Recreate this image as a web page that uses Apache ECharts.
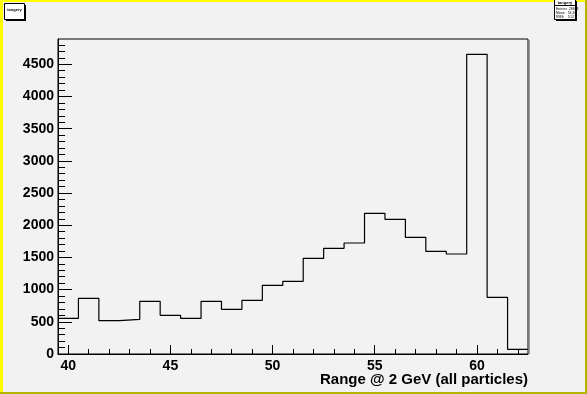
<!DOCTYPE html>
<html>
<head>
<meta charset="utf-8">
<script src="https://cdn.jsdelivr.net/npm/echarts@6.0.0/dist/echarts.min.js"></script>
<style>
html,body{margin:0;padding:0;background:#f2f2f2;}
#chart{width:587px;height:394px;}
</style>
</head>
<body>
<div id="chart"></div>
<script>
// ---- data ----
var binCenters = [40,41,42,43,44,45,46,47,48,49,50,51,52,53,54,55,56,57,58,59,60,61,62];
var counts     = [554,865,517,539,818,601,554,818,694,834,1067,1129,1486,1642,1724,2185,2092,1813,1595,1553,4655,880,73];
var binWidth = 1;
var xTickLabels = [40,45,50,55,60];
var yTickLabels = [0,500,1000,1500,2000,2500,3000,3500,4000,4500];
var xTitle = 'Range @ 2 GeV (all particles)';
var histTitle = 'tangery';
var statsLines = ['Entries  28688', 'Mean   53.48', 'RMS    5.52'];

// ---- build ----
var stepData = binCenters.map(function (c, i) { return [c - binWidth / 2, counts[i]]; });
stepData.push([binCenters[binCenters.length - 1] + binWidth / 2, counts[counts.length - 1]]);
var xMin = binCenters[0] - binWidth / 2;
var xMax = binCenters[binCenters.length - 1] + binWidth / 2;
var yMax = 4893;
var xMinor = [], yMinor = [];
for (var v = 40; v <= 62; v += 1) { if (xTickLabels.indexOf(v) < 0) xMinor.push(v); }
for (var w = 100; w < yMax; w += 100) { if (w % 500 !== 0) yMinor.push(w); }
function plain(val) { return String(val); }

var font = 'Liberation Sans, Arial, sans-serif';
var chart = echarts.init(document.getElementById('chart'), null, {renderer: 'canvas'});
var gridL = 58, gridT = 39, gridR = 59, gridB = 40;

var option = {
  backgroundColor: '#f2f2f2',
  animation: false,
  grid: {left: gridL, top: gridT, right: gridR, bottom: gridB, show: true,
         borderColor: '#000', borderWidth: 1, backgroundColor: 'transparent',
         outerBoundsMode: 'none', containLabel: false},
  title: {text: xTitle, right: 59, top: 372, padding: 0,
          textStyle: {fontFamily: font, fontWeight: 'bold', fontSize: 15, color: '#000'}},
  xAxis: [{
    type: 'value', min: xMin, max: xMax,
    axisLine: {show: true, lineStyle: {color: '#000', width: 1}},
    axisTick: {show: true, inside: true, length: 9, customValues: xTickLabels, lineStyle: {color: '#000'}},
    axisLabel: {show: true, customValues: xTickLabels, margin: 5, color: '#000', formatter: plain,
                fontFamily: font, fontWeight: 'bold', fontSize: 14},
    splitLine: {show: false}
  }, {
    type: 'value', min: xMin, max: xMax, position: 'bottom',
    axisLine: {show: false},
    axisTick: {show: true, inside: true, length: 5, customValues: xMinor, lineStyle: {color: '#000'}},
    axisLabel: {show: false},
    splitLine: {show: false}
  }],
  yAxis: [{
    type: 'value', min: 0, max: yMax,
    axisLine: {show: true, lineStyle: {color: '#000', width: 1}},
    axisTick: {show: true, inside: true, length: 14, customValues: yTickLabels, lineStyle: {color: '#000'}},
    axisLabel: {show: true, customValues: yTickLabels, margin: 4, color: '#000', formatter: plain,
                fontFamily: font, fontWeight: 'bold', fontSize: 14},
    splitLine: {show: false}
  }, {
    type: 'value', min: 0, max: yMax, position: 'left',
    axisLine: {show: false},
    axisTick: {show: true, inside: true, length: 7, customValues: yMinor, lineStyle: {color: '#000'}},
    axisLabel: {show: false},
    splitLine: {show: false}
  }],
  series: [{
    type: 'line', xAxisIndex: 0, yAxisIndex: 0, step: 'end',
    data: stepData, showSymbol: false, symbol: 'none',
    lineStyle: {color: '#000', width: 1.2}, clip: true
  }],
  graphic: [
    // canvas borders
    {type: 'rect', shape: {x: 0, y: 0, width: 587, height: 2}, style: {fill: '#ffff00'}, silent: true},
    {type: 'rect', shape: {x: 0, y: 0, width: 3, height: 394}, style: {fill: '#ffff00'}, silent: true},
    {type: 'rect', shape: {x: 585, y: 0, width: 2, height: 394}, style: {fill: '#b3b300'}, silent: true},
    {type: 'rect', shape: {x: 0, y: 392, width: 587, height: 2}, style: {fill: '#b3b300'}, silent: true},
    // frame shadow
    {type: 'line', shape: {x1: 529.5, y1: gridT + 1, x2: 529.5, y2: 394 - gridB}, style: {stroke: '#999', lineWidth: 1}, silent: true},
    // title box (top-left)
    {type: 'rect', shape: {x: 6, y: 5, width: 20, height: 16}, style: {fill: '#000'}, silent: true},
    {type: 'rect', shape: {x: 4.5, y: 3.5, width: 20, height: 16}, style: {fill: '#fff', stroke: '#000', lineWidth: 1}, silent: true},
    {type: 'text', x: 14.5, y: 9.5, style: {text: histTitle, fontSize: 4, fontFamily: font, fontWeight: 'bold', fill: '#000', align: 'center', verticalAlign: 'middle'}, silent: true},
    // stats box (top-right)
    {type: 'rect', shape: {x: 556, y: 1, width: 21, height: 20}, style: {fill: '#000'}, silent: true},
    {type: 'rect', shape: {x: 554.5, y: -0.5, width: 21, height: 20}, style: {fill: '#fff', stroke: '#000', lineWidth: 1}, silent: true},
    {type: 'text', x: 565, y: 3, style: {text: histTitle, fontSize: 4, fontFamily: font, fontWeight: 'bold', fill: '#000', align: 'center', verticalAlign: 'middle'}, silent: true},
    {type: 'line', shape: {x1: 555, y1: 5.5, x2: 575, y2: 5.5}, style: {stroke: '#000', lineWidth: 1}, silent: true},
    {type: 'text', x: 556, y: 9, style: {text: statsLines[0], fontSize: 3.5, fontFamily: font, fill: '#000', verticalAlign: 'middle'}, silent: true},
    {type: 'text', x: 556, y: 13, style: {text: statsLines[1], fontSize: 3.5, fontFamily: font, fill: '#000', verticalAlign: 'middle'}, silent: true},
    {type: 'text', x: 556, y: 17, style: {text: statsLines[2], fontSize: 3.5, fontFamily: font, fill: '#000', verticalAlign: 'middle'}, silent: true}
  ]
};
chart.setOption(option);
</script>
</body>
</html>
